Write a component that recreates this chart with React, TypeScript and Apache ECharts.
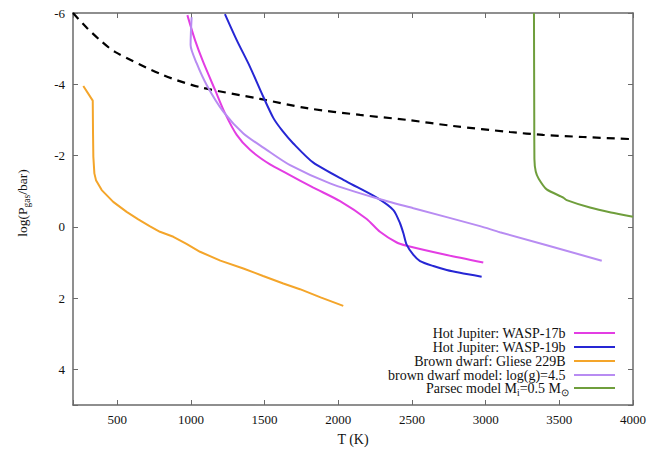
import React, { useEffect, useRef } from "react";
import * as echarts from "echarts";

// T (K), log(P_gas/bar)
const wasp17b: number[][] = [
  [976, -5.94], [1028, -5.24], [1084, -4.62], [1164, -3.84], [1231, -3.19],
  [1311, -2.58], [1401, -2.16], [1537, -1.75], [1650, -1.50], [1831, -1.10],
  [2012, -0.72], [2193, -0.22], [2283, 0.14], [2397, 0.44], [2464, 0.53],
  [2736, 0.79], [2984, 1.0],
];
const wasp19b: number[][] = [
  [1231, -5.97], [1311, -5.24], [1401, -4.49], [1491, -3.65], [1560, -3.05],
  [1620, -2.70], [1695, -2.34], [1831, -1.80], [2057, -1.27], [2261, -0.82],
  [2374, -0.47], [2419, -0.10], [2442, 0.18], [2464, 0.50], [2510, 0.79],
  [2555, 0.96], [2645, 1.10], [2736, 1.21], [2826, 1.29], [2973, 1.40],
];
const gliese229B: number[][] = [
  [270, -3.95], [334, -3.54], [336, -2.6], [338, -1.97], [345, -1.5],
  [356, -1.31], [395, -1.03], [473, -0.70], [564, -0.42], [643, -0.21],
  [720, -0.02], [790, 0.14], [881, 0.28], [970, 0.48], [1062, 0.70],
  [1200, 0.95], [1356, 1.17], [1490, 1.38], [1627, 1.59], [1740, 1.75],
  [1880, 1.98], [2034, 2.22],
];
const bdModel: number[][] = [
  [1005, -5.88], [1000, -5.45], [998, -5.10], [1039, -4.59], [1107, -3.98],
  [1220, -3.23], [1356, -2.62], [1514, -2.16], [1673, -1.73], [1944, -1.22],
  [2261, -0.80], [2510, -0.52], [2962, -0.02], [3097, 0.15], [3788, 0.95],
];
const parsec: number[][] = [
  [3328, -6], [3330, -3], [3331, -1.9], [3340, -1.55], [3360, -1.35],
  [3414, -1.05], [3527, -0.82], [3550, -0.75], [3708, -0.54], [3850, -0.40],
  [4000, -0.28],
];
const condensation: number[][] = [
  [200, -6.0], [295, -5.58], [383, -5.24], [485, -4.91], [811, -4.26],
  [1062, -3.92], [1469, -3.59], [1788, -3.33], [2148, -3.14], [2466, -3.0],
  [2779, -2.83], [3165, -2.66], [3389, -2.58], [3661, -2.52], [4000, -2.46],
];

const seriesNames = [
  "Hot Jupiter: WASP-17b",
  "Hot Jupiter: WASP-19b",
  "Brown dwarf: Gliese 229B",
  "brown dwarf model: log(g)=4.5",
  "Parsec model",
];
const seriesColors = ["#e33de3", "#2626d4", "#f4a52a", "#b88cf2", "#6f9e3c"];
const seriesData = [wasp17b, wasp19b, gliese229B, bdModel, parsec];
const seriesSmooth = [0.25, 0.25, false, 0.25, 0.2];

const xTicks = { min: 200, max: 4000, step: 500 };
const yTicks = { min: -6, max: 5, step: 2 };

const FONT = "Liberation Serif";

export default function App() {
  const ref = useRef<HTMLDivElement>(null);
  useEffect(() => {
    if (!ref.current) return;
    const chart = echarts.init(ref.current, undefined, { renderer: "svg" });
    const axisLine = { show: true, onZero: false, lineStyle: { color: "#6a6a6a", width: 1.5 } };
    const axisTick = { show: true, inside: true, length: 5, lineStyle: { color: "#6a6a6a", width: 1 } };
    const xCommon = {
      type: "value" as const,
      min: xTicks.min,
      max: xTicks.max,
      minInterval: xTicks.step,
      maxInterval: xTicks.step,
      splitLine: { show: false },
      axisLine,
      axisTick,
    };
    const yCommon = {
      type: "value" as const,
      min: yTicks.min,
      max: yTicks.max,
      interval: yTicks.step,
      inverse: true,
      splitLine: { show: false },
      axisLine,
      axisTick,
    };
    const legendTops = [326, 340, 354, 368, 381];
    const legendRich = {
      n: { fontFamily: FONT, fontSize: 14, color: "#111", lineHeight: 14, verticalAlign: "top" as const },
      s: { fontFamily: FONT, fontSize: 9.5, color: "#111", lineHeight: 10, padding: [7, 0, 0, 0], verticalAlign: "top" as const },
    };
    const nameRich = {
      n: { fontFamily: FONT, fontSize: 13.5, color: "#111", lineHeight: 14, verticalAlign: "top" as const },
      s: { fontFamily: FONT, fontSize: 9.5, color: "#111", lineHeight: 10, padding: [7, 0, 0, 0], verticalAlign: "top" as const },
    };
    const option: any = {
      animation: false,
      backgroundColor: "#ffffff",
      textStyle: { fontFamily: FONT },
      grid: { left: 73, right: 16, top: 13, bottom: 46, containLabel: false },
      xAxis: [
        {
          ...xCommon,
          position: "bottom",
          name: "T (K)",
          nameLocation: "middle",
          nameGap: 27,
          nameTextStyle: { fontFamily: FONT, fontSize: 14, color: "#111" },
          axisLabel: {
            margin: 8,
            fontFamily: FONT,
            fontSize: 13,
            color: "#111",
            formatter: (v: number) => (v % xTicks.step === 0 ? String(v) : ""),
          },
        },
        { ...xCommon, position: "top", axisLabel: { show: false } },
      ],
      yAxis: [
        {
          ...yCommon,
          position: "left",
          name: "{n|log(P}{s|gas}{n|/bar)}",
          nameLocation: "middle",
          nameGap: 44,
          nameRotate: 90,
          nameTextStyle: { fontFamily: FONT, rich: nameRich, padding: [0, 0, 0, 12] },
          axisLabel: {
            margin: 8,
            fontFamily: FONT,
            fontSize: 13,
            color: "#111",
            formatter: (v: number) => (v % yTicks.step === 0 ? String(v) : ""),
          },
        },
        { ...yCommon, position: "right", axisLabel: { show: false } },
      ],
      legend: seriesNames.map((name, i) => ({
        show: true,
        right: 34,
        top: legendTops[i],
        orient: "horizontal",
        align: "right",
        padding: 0,
        selectedMode: false,
        icon: "rect",
        itemWidth: 41,
        itemHeight: 2,
        data: [name],
        formatter: (n: string) =>
          n === "Parsec model" ? "{n|Parsec model M}{s|i}{n|=0.5 M}{s|\u2299}" : n + " ",
        textStyle: { fontFamily: FONT, fontSize: 14, lineHeight: 14, color: "#111", rich: legendRich },
      })),
      series: [
        ...seriesNames.map((name, i) => ({
          name,
          type: "line",
          xAxisIndex: 0,
          yAxisIndex: 0,
          data: seriesData[i],
          color: seriesColors[i],
          showSymbol: false,
          symbol: "none",
          smooth: seriesSmooth[i],
          lineStyle: { color: seriesColors[i], width: 2 },
          z: 3 + i,
        })),
        {
          name: "condensation",
          type: "line",
          data: condensation,
          showSymbol: false,
          symbol: "none",
          smooth: 0.3,
          lineStyle: { color: "#000", width: 2.2, type: [8, 6] },
          z: 2,
        },
      ],
    };
    chart.setOption(option);
    return () => chart.dispose();
  }, []);
  return <div ref={ref} style={{ width: 649, height: 451, position: "absolute", left: 0, top: 0 }} />;
}
